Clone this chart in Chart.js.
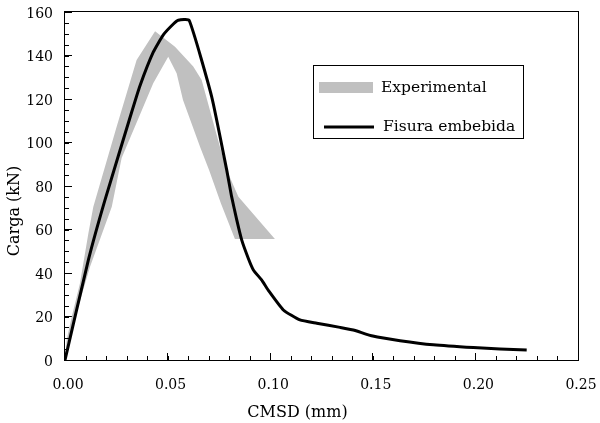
<!DOCTYPE html>
<html><head><meta charset="utf-8">
<script src="https://cdn.jsdelivr.net/npm/chart.js@4/dist/chart.umd.min.js"></script>
<style>html,body{margin:0;padding:0;background:#fff}#wrap{width:600px;height:423px;position:relative}</style>
</head><body><div id="wrap"><canvas id="c" width="600" height="423"></canvas></div>
<script>
// ---- data ----
const xTitle = 'CMSD (mm)';
const yTitle = 'Carga (kN)';
const seriesNames = ['Experimental', 'Fisura embebida'];
const xTickValues = [0, 0.05, 0.10, 0.15, 0.20, 0.25];
const yTickValues = [0, 20, 40, 60, 80, 100, 120, 140, 160];
const xMinorStep = 0.01;
const yMinorStep = 5;

// Experimental band: outer (upper) envelope and inner (lower) envelope
const expUpperX = [0, 0.0008, 0.0033, 0.0073, 0.0114, 0.0138, 0.0252, 0.0349, 0.0439, 0.0536, 0.0625, 0.0666, 0.0755, 0.0788, 0.0845, 0.1023];
const expUpperY = [0, 9.2, 19.9, 35.3, 58.3, 70.5, 107.3, 137.9, 151.1, 144.0, 134.9, 128.7, 98.1, 87.4, 75.1, 55.6];
const expLowerX = [0, 0.0010, 0.0122, 0.0228, 0.0276, 0.0375, 0.0430, 0.0503, 0.0544, 0.0575, 0.0658, 0.0702, 0.0760, 0.0828];
const expLowerY = [0, 6.9, 42.9, 70.5, 92.9, 114.9, 127.2, 139.4, 131.8, 119.5, 98.1, 87.4, 72.0, 55.6];

// Numerical model (embedded crack)
const numX = [0, 0.0114, 0.0195, 0.0325, 0.0365, 0.0430, 0.0479, 0.0528, 0.0552, 0.0605, 0.0715, 0.0788, 0.0812, 0.0837, 0.0861, 0.0893, 0.0918, 0.0958, 0.0991, 0.1064, 0.1145, 0.1227, 0.1340, 0.1405, 0.1500, 0.1633, 0.1795, 0.1990, 0.2120, 0.2250];
const numY = [0, 46, 73.6, 114, 126, 141.5, 149.5, 154.5, 156.2, 156.2, 121, 87.4, 75.1, 64.4, 55.2, 46.8, 41.4, 36.8, 32, 23, 18.4, 16.9, 15.0, 13.8, 11, 8.9, 7.0, 5.7, 5.1, 4.6];

// ---- build ----
const bandPts = expUpperX.map((x, i) => ({x, y: expUpperY[i]}))
  .concat(expLowerX.map((x, i) => ({x, y: expLowerY[i]})).reverse());
const numPts = numX.map((x, i) => ({x, y: numY[i]}));

const SERIF = '"DejaVu Serif", "Liberation Serif", serif';

function noPad(s) { s.paddingTop = 0; s.paddingBottom = 0; s.paddingLeft = 0; s.paddingRight = 0; }

const decor = {
  id: 'decor',
  afterDraw(chart) {
    const {ctx, chartArea: a} = chart;
    const xs = chart.scales.x, ys = chart.scales.y;
    ctx.save();
    // minor ticks (inward)
    ctx.strokeStyle = '#000';
    ctx.lineWidth = 1;
    ctx.beginPath();
    const nx = Math.round((xs.max - xs.min) / xMinorStep);
    for (let i = 1; i < nx; i++) {
      const px = Math.round(xs.getPixelForValue(xs.min + i * xMinorStep)) + 0.5;
      ctx.moveTo(px, a.bottom);
      ctx.lineTo(px, a.bottom - 4);
    }
    const ny = Math.round((ys.max - ys.min) / yMinorStep);
    for (let i = 1; i < ny; i++) {
      const py = Math.round(ys.getPixelForValue(ys.min + i * yMinorStep)) + 0.5;
      ctx.moveTo(a.left, py);
      ctx.lineTo(a.left + 4, py);
    }
    ctx.stroke();
    // frame
    ctx.strokeRect(a.left - 0.5, a.top - 0.5, a.right - a.left + 1, a.bottom - a.top + 1);
    // axis titles
    ctx.fillStyle = '#000';
    ctx.font = '16px ' + SERIF;
    ctx.textAlign = 'center';
    ctx.textBaseline = 'alphabetic';
    ctx.fillText(xTitle, (a.left + a.right) / 2 - 24, a.bottom + 57);
    ctx.save();
    ctx.translate(19, (a.top + a.bottom) / 2 + 25);
    ctx.rotate(-Math.PI / 2);
    ctx.fillText(yTitle, 0, 0);
    ctx.restore();
    // legend
    const lx = a.left + 248, ly = a.top + 53, lw = 210, lh = 73;
    ctx.fillStyle = '#fff';
    ctx.fillRect(lx, ly, lw, lh);
    ctx.strokeStyle = '#000';
    ctx.lineWidth = 1;
    ctx.strokeRect(lx + 0.5, ly + 0.5, lw, lh);
    const d0 = chart.data.datasets[0], d1 = chart.data.datasets[1];
    ctx.fillStyle = d0.backgroundColor;
    ctx.fillRect(lx + 6, ly + 17, 54, 11);
    ctx.strokeStyle = d1.borderColor;
    ctx.lineWidth = d1.borderWidth;
    ctx.beginPath();
    ctx.moveTo(lx + 11, ly + 62);
    ctx.lineTo(lx + 61, ly + 62);
    ctx.stroke();
    ctx.fillStyle = '#000';
    ctx.font = '15.5px ' + SERIF;
    ctx.textAlign = 'left';
    ctx.textBaseline = 'middle';
    ctx.fillText(d0.label, lx + 68, ly + 23);
    ctx.fillText(d1.label, lx + 70, ly + 62);
    ctx.restore();
  }
};

new Chart(document.getElementById('c'), {
  type: 'scatter',
  data: {
    datasets: [
      {
        label: seriesNames[0],
        data: bandPts,
        showLine: true,
        fill: 'shape',
        backgroundColor: 'rgb(192,192,192)',
        borderColor: 'rgba(0,0,0,0)',
        borderWidth: 1,
        pointRadius: 0,
        tension: 0,
        order: 2
      },
      {
        label: seriesNames[1],
        data: numPts,
        showLine: true,
        fill: false,
        borderColor: '#000',
        backgroundColor: '#000',
        borderWidth: 3,
        pointRadius: 0,
        tension: 0.15,
        borderJoinStyle: 'round',
        order: 1
      }
    ]
  },
  options: {
    responsive: false,
    animation: false,
    devicePixelRatio: 1,
    layout: {padding: {top: 12, right: 22, left: 0, bottom: 0}},
    plugins: {legend: {display: false}, tooltip: {enabled: false}},
    scales: {
      x: {
        type: 'linear', position: 'bottom', min: 0, max: 0.25,
        afterBuildTicks: s => { s.ticks = xTickValues.map(v => ({value: v})); },
        ticks: {
          callback: v => Number(v).toFixed(2),
          font: {family: SERIF, size: 14}, color: '#000',
          padding: 24, labelOffset: 3, maxRotation: 0, autoSkip: false
        },
        grid: {drawOnChartArea: false, tickLength: -7, tickColor: '#000', tickWidth: 1},
        border: {display: false},
        afterFit: s => { s.height = 63; noPad(s); }
      },
      y: {
        type: 'linear', position: 'left', min: 0, max: 160,
        afterBuildTicks: s => { s.ticks = yTickValues.map(v => ({value: v})); },
        ticks: {
          font: {family: SERIF, size: 14}, color: '#000',
          padding: 19, labelOffset: 2, autoSkip: false
        },
        grid: {drawOnChartArea: false, tickLength: -7, tickColor: '#000', tickWidth: 1},
        border: {display: false},
        afterFit: s => { s.width = 65; noPad(s); }
      }
    }
  },
  plugins: [decor]
});
</script>
</body></html>
